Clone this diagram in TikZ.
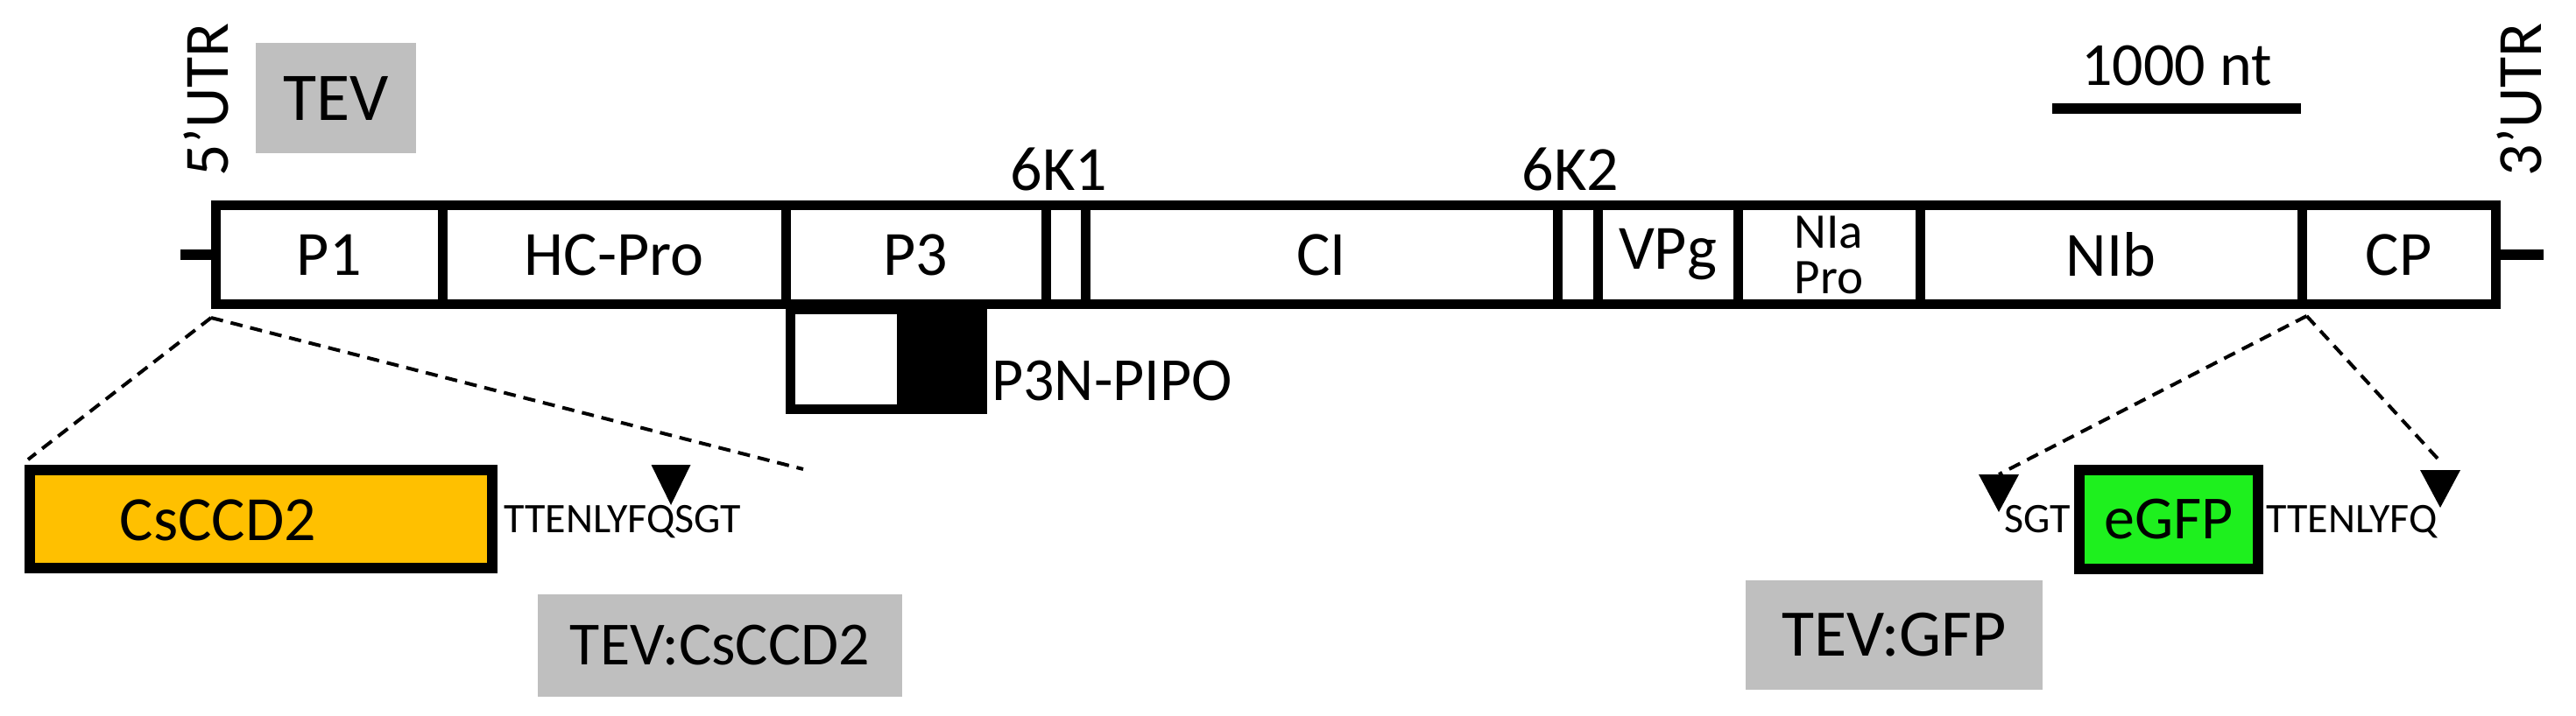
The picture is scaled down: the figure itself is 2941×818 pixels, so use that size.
\documentclass[tikz,border=0pt]{standalone}
\usepackage{fontspec}
\setmainfont{Carlito}
\definecolor{boxgray}{RGB}{191,191,191}
\definecolor{ccdorange}{RGB}{255,192,0}
\definecolor{gfpgreen}{RGB}{30,240,30}
\newcommand{\pxfont}[1]{\fontsize{#1}{#1}\selectfont}
\begin{document}
\begin{tikzpicture}[x=1pt,y=-1pt,
  seg/.style={draw, line width=11pt, minimum height=113pt, inner sep=0pt, font=\pxfont{72}},
  greybox/.style={fill=boxgray, inner sep=0pt},
  lbl/.style={inner sep=0pt},
  seqtext/.style={inner sep=0pt, anchor=base west, font=\pxfont{48}},
  cutline/.style={line width=4pt, dash pattern=on 14pt off 9pt},
  thick line/.style={line width=11pt}]
\useasboundingbox (0,0) rectangle (2941,818);

% genome segments
\node[seg, minimum width=258.5pt] (p1) at (375.75,291) {P1};
\node[seg, minimum width=392pt] (hc) at (701,291) {HC-Pro};
\node[seg, minimum width=297pt] (p3) at (1045.5,291) {P3};
\node[seg, minimum width=45pt] (k1box) at (1216.5,291) {};
\node[seg, minimum width=539pt] (ci) at (1508.5,291) {CI};
\node[seg, minimum width=46pt] (k2box) at (1801,291) {};
\node[seg, minimum width=160pt] (vpg) at (1904,291) {VPg};
\node[seg, minimum width=208pt, align=center, font=\fontsize{57}{52}\selectfont] (nia) at (2088,291) {NIa\\Pro};
\node[seg, minimum width=436pt] (nib) at (2410,291) {NIb};
\node[seg, minimum width=221.5pt] (cp) at (2738.75,291) {CP};

% UTR tails
\coordinate (t5) at (206,291);
\coordinate (t3) at (2904,291);
\draw[thick line] (t5) -- (p1.west);
\draw[thick line] (cp.east) -- (t3);

% labels above
\node[lbl, rotate=90, font=\pxfont{72}] (utr5) at (235,114) {5’UTR};
\node[lbl, rotate=90, font=\pxfont{72}] (utr3) at (2876,114) {3’UTR};
\node[greybox, minimum width=183pt, minimum height=126pt, font=\pxfont{78}] (tev) at (383.5,112) {TEV};
\node[lbl, anchor=base, font=\pxfont{72}] (k1) at (1209,218) {6K1};
\node[lbl, anchor=base, font=\pxfont{72}] (k2) at (1793,218) {6K2};

% scale bar
\coordinate (sb1) at (2343,124);
\coordinate (sb2) at (2627,124);
\draw[line width=12pt] (sb1) -- (sb2);
\node[lbl, anchor=base, font=\pxfont{70}] (sbl) at (2485,98) {1000 nt};

% P3N-PIPO
\node[draw, line width=11pt, minimum width=218.5pt, minimum height=114pt, inner sep=0pt, anchor=north west] (pipo) at (897,347.5) {};
\fill (1024,347.5) rectangle (1121,467);
\node[lbl, anchor=base west, font=\pxfont{70}] (pipol) at (1132,457) {P3N-PIPO};

% CsCCD2 insert
\node[draw, line width=12pt, fill=ccdorange, minimum width=528pt, minimum height=112pt, inner sep=0pt] (ccd) at (298,593) {};
\node[lbl, font=\pxfont{72}] (ccdl) at (249,594) {CsCCD2};
\node[seqtext] (seq1) at (575,608) {TTENLYFQSGT};
\coordinate (site1) at (766,531);
\fill ([xshift=-22.5pt]site1) -- ([xshift=22.5pt]site1) -- ([yshift=-46pt]site1) -- cycle;
\coordinate (cut5) at ([yshift=-10pt]p1.south west);
\coordinate (l1) at (32,525);
\coordinate (l2) at (917,536);
\draw[cutline] (cut5) -- (l1);
\draw[cutline] (cut5) -- (l2);
\node[greybox, minimum width=416pt, minimum height=117pt, font=\pxfont{70}] (tevccd) at (822,737.5) {TEV:CsCCD2};

% eGFP insert
\node[draw, line width=12pt, fill=gfpgreen, minimum width=204pt, minimum height=113pt, inner sep=0pt, font=\pxfont{70}] (gfp) at (2476,593.5) {eGFP};
\node[seqtext] (sgt) at (2288,608) {SGT};
\node[seqtext] (seq2) at (2587,608) {TTENLYFQ};
\coordinate (site2) at (2282,542);
\coordinate (site3) at (2786,537);
\fill ([xshift=-23pt]site2) -- ([xshift=23pt]site2) -- ([yshift=-43pt]site2) -- cycle;
\fill ([xshift=-23pt]site3) -- ([xshift=23pt]site3) -- ([yshift=-43pt]site3) -- cycle;
\coordinate (cut3) at ([yshift=-8pt]nib.south east);
\coordinate (r2) at (2784,525);
\draw[cutline] (cut3) -- (site2);
\draw[cutline] (cut3) -- (r2);
\node[greybox, minimum width=339pt, minimum height=125pt, font=\pxfont{76}] (tevgfp) at (2162.5,725.5) {TEV:GFP};
\end{tikzpicture}
\end{document}
